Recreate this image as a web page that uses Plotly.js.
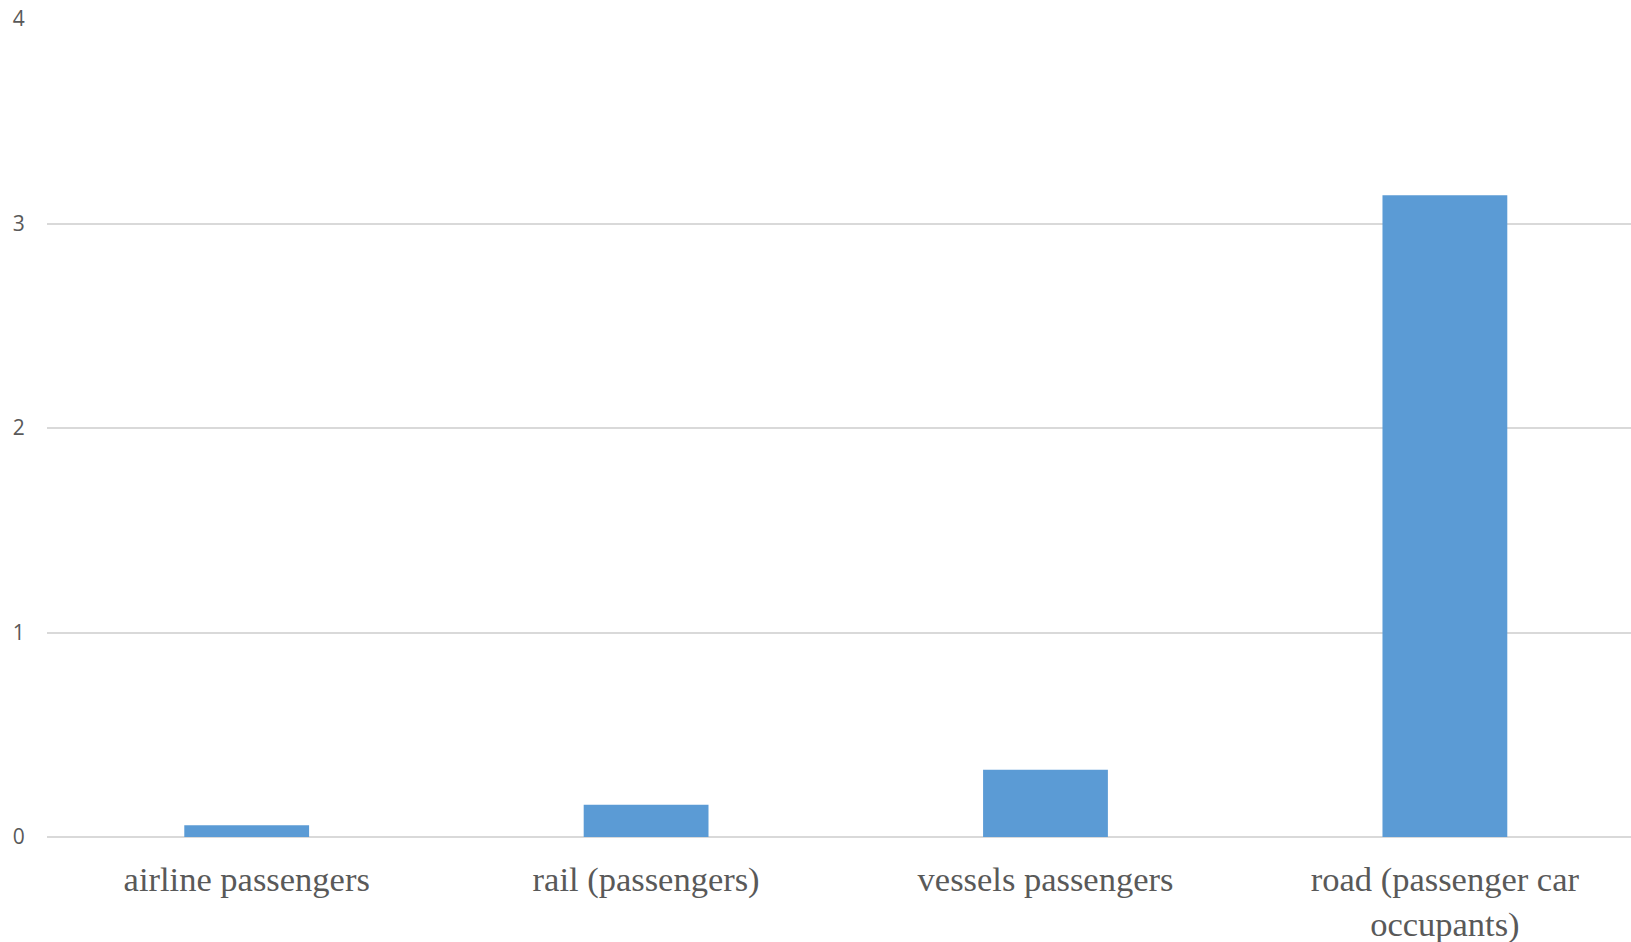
<!DOCTYPE html>
<html>
<head>
<meta charset="utf-8">
<script src="https://cdn.plot.ly/plotly-3.0.1.min.js"></script>
<style>html,body{margin:0;padding:0;background:#fff;}#chart{width:1631px;height:942px;}</style>
</head>
<body>
<div id="chart"></div>
<script>
const categories = ["airline passengers", "rail (passengers)", "vessels passengers", "road (passenger car<br>occupants)"];
const values = [0.057, 0.158, 0.329, 3.138];
const yTicks = [0, 1, 2, 3, 4];

Plotly.newPlot('chart', [{
  type: 'bar',
  x: categories,
  y: values,
  marker: {color: '#5b9bd5'},
  hoverinfo: 'x+y'
}], {
  width: 1631,
  height: 942,
  margin: {l: 47, r: 0, t: 19, b: 105},
  paper_bgcolor: '#fff',
  plot_bgcolor: '#fff',
  bargap: 0.6875,
  showlegend: false,
  xaxis: {
    type: 'category',
    range: [-0.5, 3.466],
    showgrid: false,
    showline: false,
    zeroline: false,
    ticks: 'outside', ticklen: 12, tickcolor: 'rgba(0,0,0,0)',
    tickfont: {family: 'Liberation Serif, serif', size: 34.5, color: '#595959'}
  },
  yaxis: {
    range: [0, 4],
    tickvals: yTicks,
    ticktext: yTicks.map(String),
    showgrid: true,
    gridcolor: '#d9d9d9',
    gridwidth: 1.5,
    zeroline: true,
    zerolinecolor: '#d9d9d9',
    zerolinewidth: 1.5,
    showline: false,
    ticks: 'outside', ticklen: 17, tickcolor: 'rgba(0,0,0,0)',
    tickfont: {family: 'Open Sans, sans-serif', size: 21, color: '#595959'}
  }
}, {displayModeBar: false});
</script>
</body>
</html>
